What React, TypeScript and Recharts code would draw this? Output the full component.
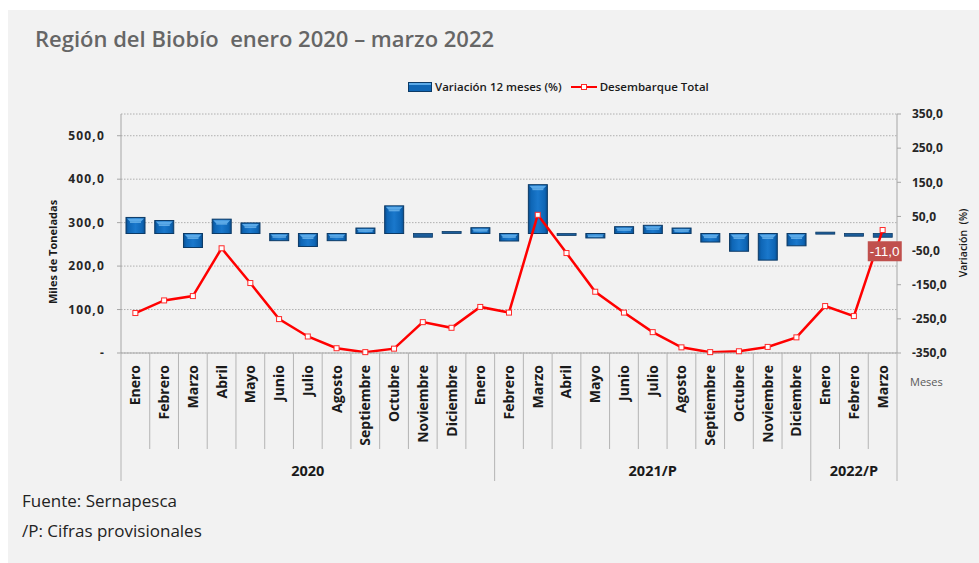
import React from "react";
import {
  ComposedChart,
  Bar,
  Line,
  XAxis,
  YAxis,
  CartesianGrid,
  LabelList,
} from "recharts";

// months shown on the axis, Jan 2020 - Mar 2022
const months = [
  "Enero", "Febrero", "Marzo", "Abril", "Mayo", "Junio", "Julio", "Agosto",
  "Septiembre", "Octubre", "Noviembre", "Diciembre",
  "Enero", "Febrero", "Marzo", "Abril", "Mayo", "Junio", "Julio", "Agosto",
  "Septiembre", "Octubre", "Noviembre", "Diciembre",
  "Enero", "Febrero", "Marzo",
];

// Variación 12 meses (%) - right axis
const variacion = [
  47, 38, -41, 42, 31, -21, -38, -21, 16, 81, -11, 6,
  17, -22, 143, -5, -13, 20, 24, 16, -25, -52, -78, -36,
  4, -8, -11,
];

// Desembarque Total (miles de toneladas) - left axis
const desembarque = [
  92, 121, 131, 241, 161, 78, 38, 11, 2, 10, 71, 58,
  106, 93, 318, 230, 141, 93, 48, 13, 2, 4, 14, 36,
  108, 85, 283,
];

// year groups under the month labels (as drawn in the original)
const yearLabels = ["2020", "2021/P", "2022/P"];
const yearSpans = [13, 11, 3];

const leftTicks = [0, 100, 200, 300, 400, 500];
const rightTicks = [-350, -250, -150, -50, 50, 150, 250, 350];

const data = months.map((m, i) => ({
  key: `${m}-${i}`,
  variacion: variacion[i],
  desembarque: desembarque[i],
}));

const PLOT_LEFT = 121;
const PLOT_RIGHT = 897;
const PLOT_BOTTOM = 353;
const STEP = (PLOT_RIGHT - PLOT_LEFT) / months.length;
const groupStarts = yearSpans.map((_, i) =>
  yearSpans.slice(0, i).reduce((a, b) => a + b, 0)
);

const fmt = (v: number) => v.toFixed(1).replace(".", ",");

const MonthTick = (props: any) => {
  const { x, index } = props;
  const i = index ?? props.payload?.index ?? 0;
  const left = x - STEP / 2;
  const isGroupStart = groupStarts.includes(i);
  const isLast = i === months.length - 1;
  const yearIdx = groupStarts.findIndex(
    (s, g) => i === s + Math.floor((yearSpans[g] - 1) / 2)
  );
  let yearX = x;
  if (yearIdx >= 0) {
    const half = (yearSpans[yearIdx] - 1) / 2;
    yearX = x + (half - Math.floor(half)) * STEP;
  }
  return (
    <g>
      <line
        x1={left}
        x2={left}
        y1={PLOT_BOTTOM}
        y2={isGroupStart ? 481 : 449}
        stroke="#b4b4b4"
        strokeWidth={1}
      />
      {isLast && (
        <line
          x1={x + STEP / 2}
          x2={x + STEP / 2}
          y1={PLOT_BOTTOM}
          y2={481}
          stroke="#b4b4b4"
          strokeWidth={1}
        />
      )}
      <text
        x={0}
        y={0}
        transform={`translate(${x + 5},365) rotate(-90)`}
        textAnchor="end"
        fontSize={14}
        fontWeight={700}
        fontFamily="'Open Sans', sans-serif"
        fill="#1a1a1a"
      >
        {months[i]}
      </text>
      {yearIdx >= 0 && (
        <text
          x={yearX}
          y={476}
          textAnchor="middle"
          fontSize={14.5}
          fontWeight={700}
          fontFamily="'Open Sans', sans-serif"
          fill="#1a1a1a"
        >
          {yearLabels[yearIdx]}
        </text>
      )}
    </g>
  );
};

const BevelBar = (props: any) => {
  let { x, y, width, height } = props;
  if (height == null || width == null) return null;
  if (height < 0) {
    y += height;
    height = -height;
  }
  if (height < 0.5) return null;
  if (height < 4) {
    return (
      <rect x={x} y={y} width={width} height={Math.max(height, 2)} fill="#1b5c9a" stroke="#0d3b66" strokeWidth={0.8} />
    );
  }
  const b = Math.min(3, height / 4);
  return (
    <g>
      <rect x={x} y={y} width={width} height={height} fill="url(#barGrad)" stroke="#0c3a66" strokeWidth={1} />
      <polygon
        points={`${x + 1},${y + 1} ${x + width - 1},${y + 1} ${x + width - 1 - b},${y + 1 + b} ${x + 1 + b},${y + 1 + b}`}
        fill="#5aa9e8"
      />
      <rect x={x + 1 + b} y={y + 1 + b} width={width - 2 - 2 * b} height={1.5} fill="#7cc0f2" opacity={0.7} />
    </g>
  );
};

const SquareDot = (props: any) => {
  const { cx, cy } = props;
  if (cx == null || cy == null) return null;
  return (
    <rect x={cx - 2.5} y={cy - 2.5} width={5} height={5} fill="#ffffff" stroke="#ff2a2a" strokeWidth={1} />
  );
};

const LastBarLabel = (props: any) => {
  const { x, y, width, height, value, index } = props;
  const last = variacion.length - 1;
  if (index !== undefined ? index !== last : value !== variacion[last]) return null;
  const bottom = Math.max(y, y + height);
  const cx = x + width / 2 + 2;
  return (
    <g>
      <rect x={cx - 17} y={bottom + 4} width={34} height={20} fill="#c0504d" />
      <text
        x={cx}
        y={bottom + 19}
        textAnchor="middle"
        fontSize={13.5}
        fontFamily="'Liberation Sans', Arial, sans-serif"
        fill="#ffffff"
      >
        {fmt(value)}
      </text>
    </g>
  );
};

const rotated = (cx: number, cy: number): React.CSSProperties => ({
  position: "absolute",
  left: cx,
  top: cy,
  transform: "translate(-50%, -50%) rotate(-90deg)",
  whiteSpace: "pre",
});

export default function App() {
  return (
    <div
      style={{
        position: "absolute",
        left: 0,
        top: 0,
        width: 979,
        height: 563,
        background: "#ffffff",
        overflow: "hidden",
        fontFamily: "'Open Sans', sans-serif",
      }}
    >
      <div style={{ position: "absolute", left: 8, top: 10, width: 971, height: 553, background: "#f2f2f2" }} />

      <div
        style={{
          position: "absolute",
          left: 35,
          top: 23,
          fontSize: 22,
          fontWeight: 600,
          color: "#666666",
          whiteSpace: "pre",
        }}
      >
        Región del Biobío  enero 2020 – marzo 2022
      </div>

      {/* legend */}
      <div
        style={{
          position: "absolute",
          left: 408,
          top: 79,
          display: "flex",
          alignItems: "center",
          fontSize: 11.5,
          fontWeight: 600,
          color: "#1a1a1a",
          whiteSpace: "nowrap",
        }}
      >
        <div
          style={{
            width: 22,
            height: 8,
            background: "linear-gradient(#5aa9e8 0 25%, #0f66b5 25% 100%)",
            border: "1px solid #0c3a66",
            marginRight: 3,
          }}
        />
        <span>Variación 12 meses (%)</span>
        <div style={{ position: "relative", width: 26, height: 10, marginLeft: 9, marginRight: 3 }}>
          <div style={{ position: "absolute", left: 0, top: 4, width: 26, height: 2.5, background: "#ff0000" }} />
          <div
            style={{
              position: "absolute",
              left: 10,
              top: 2,
              width: 4,
              height: 4,
              background: "#fff",
              border: "1px solid #ff2a2a",
            }}
          />
        </div>
        <span>Desembarque Total</span>
      </div>

      <div style={{ position: "absolute", left: 0, top: 0 }}>
        <ComposedChart
          width={979}
          height={490}
          data={data}
          margin={{ top: 114, right: 12, left: 61, bottom: 2 }}
        >
          <defs>
            <linearGradient id="barGrad" x1="0" y1="0" x2="1" y2="0">
              <stop offset="0%" stopColor="#0a4f90" />
              <stop offset="15%" stopColor="#0e66b6" />
              <stop offset="50%" stopColor="#1a78cc" />
              <stop offset="85%" stopColor="#0e66b6" />
              <stop offset="100%" stopColor="#0a4f90" />
            </linearGradient>
          </defs>
          <CartesianGrid
            yAxisId="left"
            vertical={false}
            stroke="#9e9e9e"
            strokeDasharray="1.5 1.5"
            strokeWidth={0.8}
          />
          <XAxis
            dataKey="key"
            interval={0}
            height={135}
            tickLine={false}
            axisLine={{ stroke: "#a6a6a6" }}
            tick={<MonthTick />}
          />
          <YAxis
            yAxisId="left"
            orientation="left"
            width={60}
            domain={[0, 550]}
            ticks={leftTicks}
            tickSize={4}
            tickMargin={12}
            axisLine={{ stroke: "#a6a6a6" }}
            tickLine={{ stroke: "#a6a6a6" }}
            tickFormatter={(v: number) => (v === 0 ? "-" : fmt(v))}
            tick={{ fontSize: 12, fontWeight: 700, fill: "#262626", fontFamily: "'Open Sans', sans-serif", letterSpacing: 1.2 }}
          />
          <YAxis
            yAxisId="right"
            orientation="right"
            width={70}
            domain={[-350, 350]}
            ticks={rightTicks}
            tickSize={4}
            tickMargin={11}
            axisLine={{ stroke: "#a6a6a6" }}
            tickLine={{ stroke: "#a6a6a6" }}
            tickFormatter={fmt}
            tick={{ fontSize: 12, fontWeight: 700, fill: "#262626", fontFamily: "'Open Sans', sans-serif" }}
          />
          <Bar
            yAxisId="right"
            dataKey="variacion"
            name="Variación 12 meses (%)"
            barSize={19}
            shape={<BevelBar />}
            isAnimationActive={false}
          >
            <LabelList dataKey="variacion" content={<LastBarLabel />} />
          </Bar>
          <Line
            yAxisId="left"
            type="linear"
            dataKey="desembarque"
            name="Desembarque Total"
            stroke="#ff0000"
            strokeWidth={2.5}
            dot={<SquareDot />}
            activeDot={false}
            isAnimationActive={false}
          />
        </ComposedChart>
      </div>

      <div style={{ ...rotated(52, 252), fontSize: 11, fontWeight: 700, color: "#1a1a1a" }}>
        Miles de Toneladas
      </div>
      <div style={{ ...rotated(963, 243), fontSize: 10.5, fontWeight: 600, color: "#1a1a1a" }}>
        {"Variación  (%)"}
      </div>
      <div style={{ position: "absolute", left: 910, top: 374, fontSize: 11, color: "#595959" }}>Meses</div>

      <div style={{ position: "absolute", left: 22, top: 489, fontSize: 17, color: "#222222" }}>
        Fuente: Sernapesca
      </div>
      <div style={{ position: "absolute", left: 22, top: 519, fontSize: 17, color: "#222222" }}>
        /P: Cifras provisionales
      </div>
    </div>
  );
}
